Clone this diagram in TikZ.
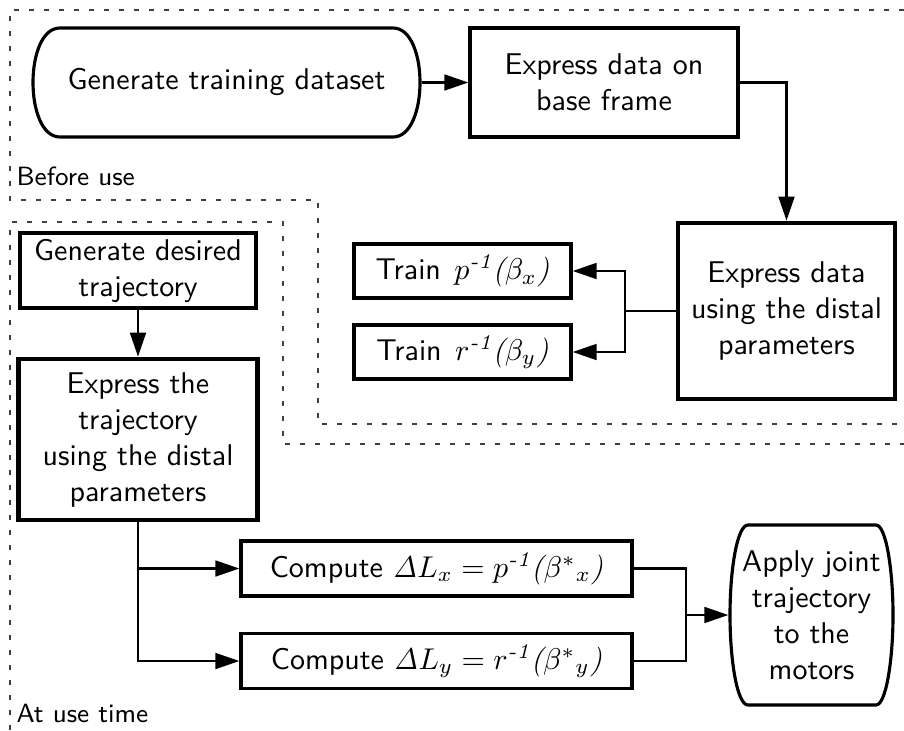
\documentclass[tikz,border=0pt]{standalone}
\usetikzlibrary{arrows.meta}
\renewcommand\familydefault{\sfdefault}
\newcommand\itrm[1]{{\rmfamily\itshape #1}}
\begin{document}
\begin{tikzpicture}[x=0.33333pt,y=-0.33333pt,
  box/.style={draw,line width=1.05pt,align=center,inner sep=0pt,font=\fontsize{10}{12}\selectfont},
  thickbox/.style={box,line width=1.5pt},
  conn/.style={line width=0.95pt,-{Triangle[length=8pt,width=5.2pt]}},
  plain/.style={line width=0.95pt},
  region/.style={dash pattern=on 1.7pt off 3.3pt,line width=0.5pt,black!75},
  lbl/.style={anchor=west,font=\fontsize{8.8}{10}\selectfont,inner sep=0pt}]
\useasboundingbox (0,0) rectangle (904,730);
% regions
\draw[region] (904,10) -- (10,10) -- (10,200) -- (318,200) -- (318,424) -- (904,424);
\draw[region] (10,730) -- (10,222) -- (283,222) -- (283,444) -- (904,444);
\node[lbl] (bu) at (16,176) {Before use};
\node[lbl] (au) at (16,713) {At use time};
% nodes
\node[box,draw=none,minimum width=129pt,minimum height=36.33pt] (A) at (226.5,82.5) {Generate training dataset};
\draw[line width=1.05pt] (60,28) -- (393,28) .. controls (429,28) and (429,137) .. (393,137) -- (60,137) .. controls (24,137) and (24,28) .. (60,28) -- cycle;
\node[box,minimum width=89.33pt,minimum height=36.33pt] (B) at (604,82.5) {Express data on\\base frame};
\node[thickbox,minimum width=72.33pt,minimum height=58.67pt] (C) at (786.5,311) {Express data\\using the distal\\parameters};
\node[box,minimum width=72.33pt,minimum height=18pt] (D) at (462.5,271) {Train\hspace{4.5pt}\itrm{$p$\textsuperscript{-1}($\beta_x$)}};
\node[box,minimum width=72.33pt,minimum height=18pt] (E) at (462.5,352) {Train\hspace{4.5pt}\itrm{$r$\textsuperscript{-1}($\beta_y$)}};
\node[box,minimum width=78.67pt,minimum height=25pt] (F) at (138,270.5) {Generate desired\\trajectory};
\node[thickbox,minimum width=79.67pt,minimum height=53.67pt] (G) at (138,439.5) {Express the\\trajectory\\using the distal\\parameters};
\node[box,minimum width=130.33pt,minimum height=18.33pt] (H) at (436.5,568.5) {Compute $\mathit{\Delta}L_x = p$\itrm{\textsuperscript{-1}(}$\beta^{*}{}_{x}$\itrm{)}};
\node[box,minimum width=130.33pt,minimum height=18.33pt] (I) at (436.5,661) {Compute $\mathit{\Delta}L_y = r$\itrm{\textsuperscript{-1}(}$\beta^{*}{}_{y}$\itrm{)}};
\node[box,draw=none,minimum width=54.33pt,minimum height=60pt] (J) at (811.5,615) {Apply joint\\trajectory\\to the\\motors};
\draw[line width=1.05pt] (748,525) -- (876,525) .. controls (886,525) and (893,570) .. (893,615) .. controls (893,660) and (886,705) .. (876,705) -- (748,705) .. controls (737,705) and (730,660) .. (730,615) .. controls (730,570) and (737,525) .. (748,525) -- cycle;
% connectors
\draw[conn] (A) -- (B);
\draw[conn] (B.east) -| (C.north);
\coordinate (c1) at (625,311);
\draw[plain] (C.west) -- (c1);
\draw[conn] (c1) |- (D.east);
\draw[conn] (c1) |- (E.east);
\draw[conn] (F) -- (G);
\draw[conn] (G.south) |- (I.west);
\draw[conn] (G.south |- H.west) -- (H.west);
\coordinate (j1) at (686,615);
\draw[plain] (H.east) -| (j1);
\draw[plain] (I.east) -| (j1);
\draw[conn] (j1) -- (J.west);
\end{tikzpicture}
\end{document}
